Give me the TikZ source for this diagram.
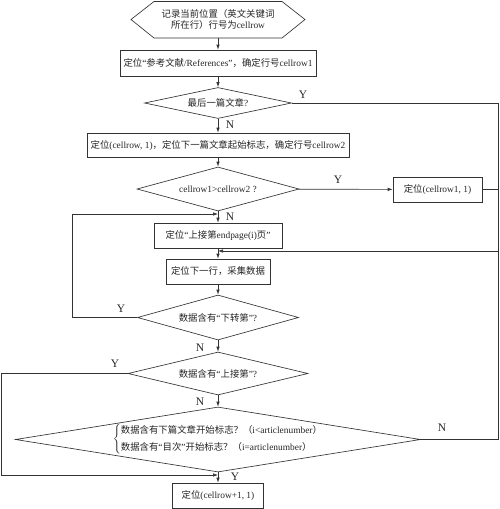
\documentclass[tikz,border=0pt]{standalone}
\usepackage{fontspec}
\setmainfont{Liberation Serif}
\newfontfamily\zhfont{Noto Sans CJK SC}
\newcommand\zh[1]{{\zhfont #1}}
\usetikzlibrary{shapes.geometric,arrows.meta}
\begin{document}
\begin{tikzpicture}[x=1pt,y=-1pt,
  line width=0.65pt, draw=black!80,
  every node/.style={font=\fontsize{9.4}{11.2}\selectfont, text=black!85},
  box/.style={draw=black!80, rectangle, inner sep=0pt, minimum height=25pt},
  dia/.style={draw=black!80, diamond, inner sep=0pt},
  lab/.style={font=\fontsize{11.5}{13}\selectfont, text=black!85},
  arr/.style={draw=black!80, -{Latex[length=5pt,width=3.5pt]}}
]
\useasboundingbox[fill=white] (0,0) rectangle (500,509);

% hexagon start
\node[align=center] (n1) at (218,19.5) {\zh{记录当前位置（英文关键词}\\\zh{所在行）行号为}cellrow};
\draw[black!80] (131,19.5) -- (154,1.5) -- (282,1.5) -- (305,19.5) -- (282,38) -- (154,38) -- cycle;
\coordinate (h1) at (218,38);

\node[box, minimum width=196pt, minimum height=26pt] (n2) at (218,63) {\zh{定位}“\zh{参考文献}/References”\zh{，确定行号}cellrow1};
\node[dia, minimum width=147pt, minimum height=31pt, aspect=4.7] (n3) at (218,103) {\zh{最后一篇文章}?};
\node[box, minimum width=262pt, minimum height=24pt] (n4) at (218,145) {\zh{定位}(cellrow, 1)\zh{，定位下一篇文章起始标志，确定行号}cellrow2};
\node[dia, minimum width=162pt, minimum height=44pt, aspect=3.7] (n5) at (218,189) {cellrow1>cellrow2 ?};
\node[box, minimum width=89pt] (n6) at (437.5,189.5) {\zh{定位}(cellrow1, 1)};
\node[box, minimum width=128pt] (n7) at (218,235.5) {\zh{定位}“\zh{上接第}endpage(i)\zh{页}”};
\node[box, minimum width=104pt] (n8) at (218,271.5) {\zh{定位下一行，采集数据}};
\node[dia, minimum width=161pt, minimum height=45pt, aspect=3.6] (n9) at (218,317.5) {\zh{数据含有}“\zh{下转第}”?};
\node[dia, minimum width=180pt, minimum height=43pt, aspect=4.2] (n10) at (218,373.5) {\zh{数据含有}“\zh{上接第}”?};
\node[dia, minimum width=405pt, minimum height=65pt, aspect=6.2] (n11) at (218,439.5)
  {$\left\{\begin{tabular}{@{}l@{}}\zh{数据含有下篇文章开始标志？（}i<articlenumber\zh{）}\\[5pt]
   \zh{数据含有}“\zh{目次}”\zh{开始标志？（}i=articlenumber\zh{）}\end{tabular}\right.$};
\node[box, minimum width=91pt] (n12) at (218,495.5) {\zh{定位}(cellrow+1, 1)};

\coordinate (j1) at (218,214);
\coordinate (j2) at (218,251);
\coordinate (j3) at (218,475);
\coordinate (r1) at (498,103);
\coordinate (r2) at (498,189.5);
\coordinate (r3) at (498,439.5);
\coordinate (l1) at (72,317.5);
\coordinate (l2) at (1.5,373.5);

% main column
\draw[arr] (h1) -- (n2.north);
\draw[arr] (n2) -- (n3);
\draw[arr] (n3) -- (n4);
\draw[arr] (n4) -- (n5);
\draw[arr] (n5) -- (n7);
\draw[arr] (n7) -- (n8);
\draw[arr] (n8) -- (n9);
\draw[arr] (n9) -- (n10);
\draw[arr] (n10) -- (n11);
\draw[arr] (n11) -- (n12);
\draw[arr] (n5) -- (n6);

% right return line
\draw[arr] (n3.east) -- (r1) |- (j2);
\draw (n6.east) -- (r2);
\draw (n11.east) -- (r3) -- (498,251);

% left loops
\draw[arr] (n9.west) -- (l1) |- (j1);
\draw[arr] (n10.west) -- (l2) |- (j3);

% labels
\node[lab] (y1) at (303,95) {Y};
\node[lab] (nn1) at (230,125) {N};
\node[lab] (y2) at (338,180) {Y};
\node[lab] (nn2) at (230,217) {N};
\node[lab] (y3) at (121,309) {Y};
\node[lab] (nn3) at (200,348) {N};
\node[lab] (y4) at (115,364) {Y};
\node[lab] (nn4) at (200,402) {N};
\node[lab] (nn5) at (442,428) {N};
\node[lab] (y5) at (235,477) {Y};
\end{tikzpicture}
\end{document}
